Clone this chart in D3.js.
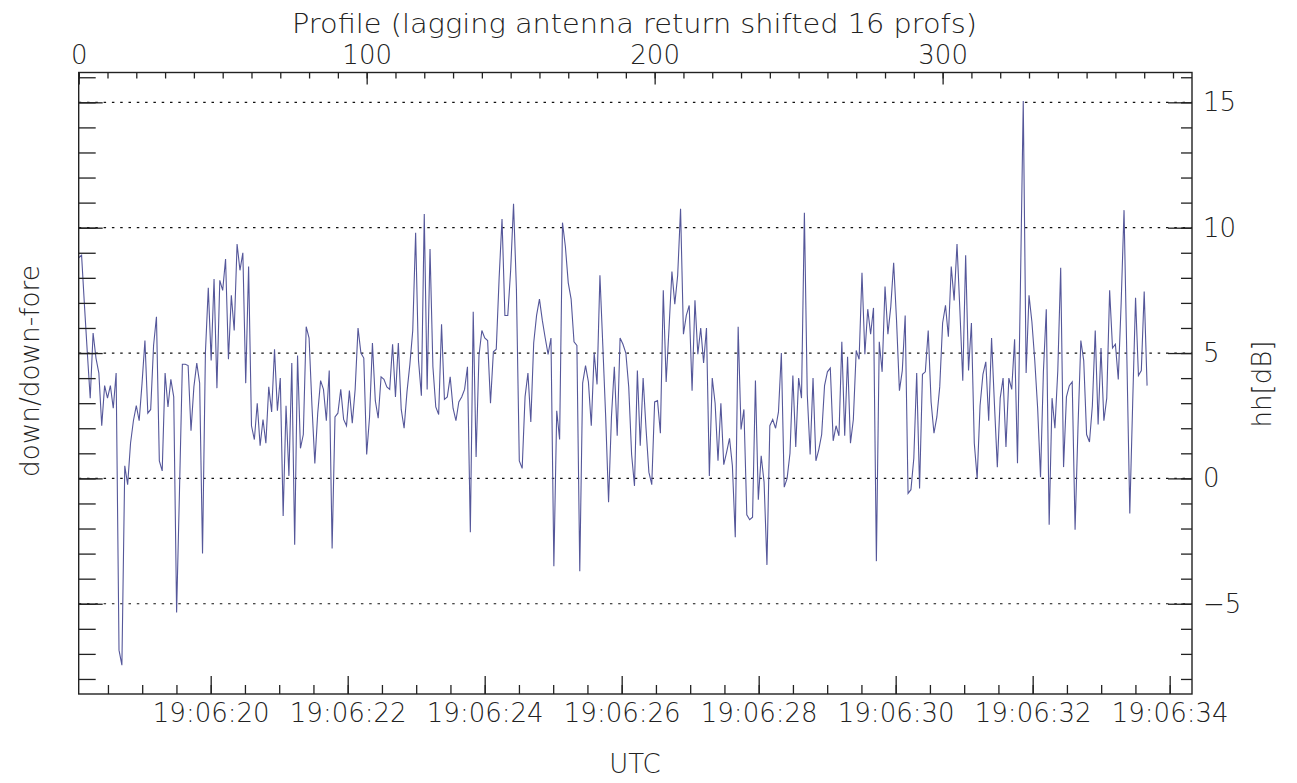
<!DOCTYPE html>
<html lang="en">
<head>
<meta charset="UTF-8">
<title>hh down/down-fore</title>
<style>
  body { margin: 0; background: white; }
  #svg { display: block; font-family: "DejaVu Sans", sans-serif; font-weight: 200; }
  .axis path, .axis line { stroke: #222; stroke-width: 1.3; }
  .axis text { font-size: 26px; fill: #222; font-family: "DejaVu Sans", sans-serif; font-weight: 200; }
  .lbl { font-size: 26px; fill: #222; }
</style>
<script src="https://d3js.org/d3.v7.min.js"></script>
</head>
<body>
<svg id="svg"></svg>
<script>
// hh [dB] per profile (down/down-fore), profiles 0..371
const hh = [
  8.8, 8.9, 6.9, 5.0, 3.2, 5.8, 4.8, 4.2, 2.1, 3.7, 3.2, 3.7, 2.8, 4.2, -6.85, -7.45, 0.5, -0.25, 1.4, 2.3,
  2.9, 2.3, 3.8, 5.5, 2.6, 2.75, 5.3, 6.45, 0.7, 0.3, 4.2, 2.85, 3.95, 3.25, -5.35, -0.5, 4.55, 4.55, 4.5, 1.9,
  3.65, 4.6, 3.8, -3.0, 5.0, 7.6, 4.7, 7.95, 3.6, 7.9, 7.5, 8.75, 4.75, 7.3, 5.9, 9.35, 8.3, 9.0, 3.8, 8.45,
  2.1, 1.55, 3.0, 1.3, 2.35, 1.4, 3.65, 2.65, 5.15, 2.7, 4.0, -1.5, 2.9, 0.1, 4.6, -2.65, 4.9, 1.2, 1.75, 6.05,
  5.6, 2.9, 0.6, 2.6, 3.9, 3.55, 2.3, 4.3, -2.8, 2.45, 2.6, 3.55, 2.35, 2.1, 3.5, 2.2, 3.55, 6.0, 5.0, 4.8,
  0.95, 2.45, 5.4, 3.1, 2.4, 4.05, 3.95, 3.65, 3.55, 5.35, 3.25, 5.4, 2.75, 2.0, 3.45, 4.55, 5.9, 9.8, 4.7, 3.3,
  10.55, 3.55, 9.15, 4.45, 2.85, 2.55, 6.15, 3.15, 3.25, 4.05, 2.8, 2.3, 3.05, 3.25, 3.55, 4.45, -2.15, 6.65, 0.85, 4.9,
  5.9, 5.6, 5.5, 3.0, 5.05, 5.15, 8.0, 10.35, 6.5, 6.5, 8.3, 10.95, 7.55, 0.7, 0.4, 3.25, 4.2, 2.25, 5.4, 6.5,
  7.15, 6.3, 5.6, 4.95, 5.6, -3.5, 2.7, 1.55, 10.2, 9.25, 7.8, 7.15, 5.45, 5.3, -3.7, 3.8, 4.5, 3.85, 2.1, 5.0,
  3.75, 8.1, 5.3, 2.45, -0.95, 2.45, 4.45, 1.7, 5.6, 5.35, 5.0, 3.65, 0.95, -0.3, 4.3, 1.3, 4.0, 2.0, 0.25, -0.25,
  3.05, 3.1, 1.8, 7.5, 3.85, 6.0, 8.25, 6.95, 8.1, 10.75, 5.75, 6.5, 6.9, 3.5, 7.1, 4.95, 6.0, 4.6, 6.0, 0.1,
  4.0, 3.0, 0.7, 3.0, 0.55, 1.05, 1.6, 0.5, -2.35, 6.05, 1.95, 2.75, -1.45, -1.65, -1.55, 3.9, -0.85, 0.9, -0.15, -3.45,
  2.1, 2.35, 2.0, 2.65, 5.0, -0.35, 0.0, 1.0, 4.1, 1.25, 4.0, 3.2, 10.6, 3.35, 0.95, 4.0, 0.7, 1.15, 1.75, 3.7,
  4.25, 4.4, 1.5, 2.1, 1.7, 5.45, 1.7, 4.85, 1.4, 2.35, 5.1, 4.75, 8.2, 4.95, 6.75, 5.75, 6.8, -3.3, 5.45, 4.25,
  7.65, 5.75, 6.85, 8.6, 6.3, 3.5, 4.3, 6.5, -0.6, -0.45, 0.8, 4.2, -0.4, 4.15, 4.25, 5.9, 3.05, 1.8, 2.45, 3.65,
  6.2, 6.9, 5.65, 8.45, 7.1, 9.35, 6.7, 3.9, 8.9, 4.3, 6.2, 1.4, 0.0, 2.9, 4.15, 4.65, 2.3, 5.6, 2.95, 0.45,
  3.2, 4.0, 1.25, 4.0, 3.55, 5.55, 0.6, 7.5, 15.05, 4.2, 7.3, 6.25, 4.7, 2.8, 0.05, 4.25, 6.75, -1.85, 3.2, 2.0,
  4.3, 8.4, 0.45, 3.25, 3.7, 3.85, -2.05, 2.0, 5.5, 4.7, 1.75, 1.45, 2.9, 5.9, 2.15, 5.2, 2.3, 3.2, 7.5, 5.2,
  5.35, 3.95, 7.0, 10.7, 4.7, -1.4, 3.0, 7.2, 4.1, 4.3, 7.45, 3.7
];
const gridValues = [-5, 0, 5, 10, 15];
const profileTicks = [0, 100, 200, 300];
const timeStart = new Date(Date.UTC(2000, 0, 1, 19, 6, 18, 73));
const timeEnd = new Date(Date.UTC(2000, 0, 1, 19, 6, 34, 326));
const profileMax = 386.6;
const yDomain = [-8.6, 16.19];

const width = 1297, height = 783;
const mLeft = 78.7, mRight = 1192, mTop = 72.5, mBottom = 694;

const svg = d3.select('#svg').attr('width', width).attr('height', height);

const xP = d3.scaleLinear().domain([0, profileMax]).range([mLeft, mRight]);
const xT = d3.scaleUtc().domain([timeStart, timeEnd]).range([mLeft, mRight]);
const y = d3.scaleLinear().domain(yDomain).range([mBottom, mTop]);

// dotted grid
svg.append('g').selectAll('line')
  .data(gridValues)
  .enter().append('line')
  .attr('x1', mLeft).attr('x2', mRight)
  .attr('y1', d => y(d)).attr('y2', d => y(d))
  .attr('stroke', '#111')
  .attr('stroke-width', 1.2)
  .attr('stroke-dasharray', '2.5,5.8');

// data line
const line = d3.line().x((d, i) => xP(i)).y(d => y(d));
svg.append('path')
  .datum(hh)
  .attr('fill', 'none')
  .attr('stroke', '#55579a')
  .attr('stroke-width', 1.1)
  .attr('d', line);

function strip(g) { g.select('.domain').remove(); }

// left axis
svg.append('g').attr('class', 'axis').attr('transform', `translate(${mLeft},0)`)
  .call(d3.axisLeft(y).tickValues(d3.range(-8, 17)).tickSize(-17).tickFormat(''))
  .call(strip);
svg.append('g').attr('class', 'axis').attr('transform', `translate(${mLeft},0)`)
  .call(d3.axisLeft(y).tickValues(gridValues).tickSize(-24).tickFormat(''))
  .call(strip);

// right axis with labels
svg.append('g').attr('class', 'axis').attr('transform', `translate(${mRight},0)`)
  .call(d3.axisRight(y).tickValues(d3.range(-8, 17)).tickSize(-11).tickFormat(''))
  .call(strip);
svg.append('g').attr('class', 'axis').attr('transform', `translate(${mRight},0)`)
  .call(d3.axisRight(y).tickValues(gridValues).tickSize(-24).tickPadding(11))
  .call(strip)
  .selectAll('text').attr('text-anchor', 'start');

// bottom time axis
svg.append('g').attr('class', 'axis').attr('transform', `translate(0,${mBottom})`)
  .call(d3.axisBottom(xT).ticks(d3.utcMillisecond.every(500)).tickSize(-9).tickFormat(''))
  .call(strip);
svg.append('g').attr('class', 'axis').attr('transform', `translate(0,${mBottom})`)
  .call(d3.axisBottom(xT).ticks(d3.utcSecond.every(2)).tickSize(-18).tickPadding(10)
    .tickFormat(d3.utcFormat('%H:%M:%S')))
  .call(strip);

// top profile axis
svg.append('g').attr('class', 'axis').attr('transform', `translate(0,${mTop})`)
  .call(d3.axisTop(xP).tickValues(d3.range(0, 387, 10)).tickSize(-6).tickFormat(''))
  .call(strip);
svg.append('g').attr('class', 'axis').attr('transform', `translate(0,${mTop})`)
  .call(d3.axisTop(xP).tickValues(profileTicks).tickSize(-12).tickPadding(9))
  .call(strip);

// frame
svg.append('rect')
  .attr('x', mLeft).attr('y', mTop)
  .attr('width', mRight - mLeft).attr('height', mBottom - mTop)
  .attr('fill', 'none').attr('stroke', '#222').attr('stroke-width', 1.4);

// titles
svg.append('text').attr('class', 'lbl')
  .attr('x', 634.5).attr('y', 33).attr('text-anchor', 'middle')
  .attr('font-size', 24).attr('textLength', 685).attr('lengthAdjust', 'spacingAndGlyphs')
  .text('Profile (lagging antenna return shifted 16 profs)');
svg.append('text').attr('class', 'lbl')
  .attr('x', 635).attr('y', 773).attr('text-anchor', 'middle')
  .text('UTC');
svg.append('text').attr('class', 'lbl')
  .attr('transform', 'translate(39,371) rotate(-90)').attr('text-anchor', 'middle')
  .attr('textLength', 212).attr('lengthAdjust', 'spacingAndGlyphs')
  .text('down/down-fore');
svg.append('text').attr('class', 'lbl')
  .attr('transform', 'translate(1271,384) rotate(-90)').attr('text-anchor', 'middle')
  .text('hh[dB]');
</script>
</body>
</html>
